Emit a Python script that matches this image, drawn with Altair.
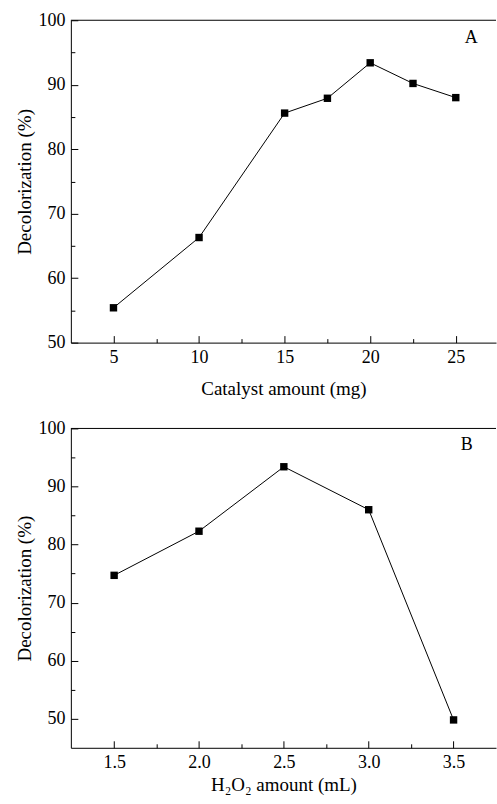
import altair as alt
import pandas as pd

# Panel A data
cat_amount = [5, 10, 15, 17.5, 20, 22.5, 25]
cat_decol = [55.4, 66.3, 85.6, 87.9, 93.4, 90.2, 88.0]
# Panel B data
h2o2_amount = [1.5, 2.0, 2.5, 3.0, 3.5]
h2o2_decol = [74.7, 82.3, 93.4, 86.0, 49.8]

a_major_x = [5, 10, 15, 20, 25]
a_minor_x = [7.5, 12.5, 17.5, 22.5]
a_major_y = [50, 60, 70, 80, 90, 100]
a_minor_y = [55, 65, 75, 85, 95]
b_major_x = [1.5, 2.0, 2.5, 3.0, 3.5]
b_minor_x = [1.75, 2.25, 2.75, 3.25]
b_major_y = [50, 60, 70, 80, 90, 100]
b_minor_y = [55, 65, 75, 85, 95]

FONT = "Liberation Serif"


def panel(xs, ys, xdom, ydom, xmaj, xmin, ymaj, ymin, xtitle, ytitle, letter, lx, ly, h, xfmt, xtp):
    df = pd.DataFrame({"x": xs, "y": ys})
    xsc = alt.Scale(domain=xdom, nice=False, zero=False)
    ysc = alt.Scale(domain=ydom, nice=False, zero=False)
    base = alt.Chart(df)

    main_x = alt.Axis(orient="bottom", values=xmaj, ticks=False, format=xfmt, title=xtitle,
                      labelPadding=6, titlePadding=xtp)
    main_y = alt.Axis(orient="left", values=ymaj, ticks=False, title=ytitle,
                      labelPadding=6, titlePadding=3)
    line = base.mark_line(color="black", strokeWidth=1).encode(
        x=alt.X("x:Q", scale=xsc, axis=main_x),
        y=alt.Y("y:Q", scale=ysc, axis=main_y),
    )
    tick_x = alt.Axis(orient="bottom", values=xmaj, labels=False, domain=False, title=None,
                      offset=-7, tickSize=7)
    tick_y = alt.Axis(orient="left", values=ymaj, labels=False, domain=False, title=None,
                      offset=-7, tickSize=7)
    pts = base.mark_square(color="black", size=55, opacity=1).encode(
        x=alt.X("x:Q", scale=xsc, axis=tick_x),
        y=alt.Y("y:Q", scale=ysc, axis=tick_y),
    )
    mtick_x = alt.Axis(orient="bottom", values=xmin, labels=False, domain=False, title=None,
                       offset=-4, tickSize=4)
    mtick_y = alt.Axis(orient="left", values=ymin, labels=False, domain=False, title=None,
                       offset=-4, tickSize=4)
    ghost = base.mark_point(opacity=0).encode(
        x=alt.X("x:Q", scale=xsc, axis=mtick_x),
        y=alt.Y("y:Q", scale=ysc, axis=mtick_y),
    )
    top = alt.Chart(pd.DataFrame({"v": [ydom[1]]})).mark_rule(color="black", strokeWidth=1).encode(
        y=alt.Y("v:Q", scale=ysc, axis=None)
    )
    lab = alt.Chart(pd.DataFrame({"t": [letter], "lx": [lx], "ly": [ly]})).mark_text(
        font=FONT, fontSize=18, color="black"
    ).encode(
        x=alt.X("lx:Q", scale=xsc, axis=None),
        y=alt.Y("ly:Q", scale=ysc, axis=None),
        text="t:N",
    )
    return alt.layer(line, pts, ghost, top, lab).resolve_axis(x="independent", y="independent").properties(
        width=426, height=h
    )


pA = panel(cat_amount, cat_decol, [2.51, 27.35], [50, 100], a_major_x, a_minor_x, a_major_y, a_minor_y,
           "Catalyst amount (mg)", "Decolorization (%)", "A", 25.9, 97.2, 323, "d", 13)
pB = panel(h2o2_amount, h2o2_decol, [1.245, 3.75], [45, 100], b_major_x, b_minor_x, b_major_y, b_minor_y,
           "H₂O₂ amount (mL)", "Decolorization (%)", "B", 3.578, 97.2, 320, ".1f", 4)

chart = alt.vconcat(pA, pB, spacing=21).properties(
    padding={"left": 16, "top": 10.5, "right": 0, "bottom": 0},
    background="white",
).configure_view(stroke=None).configure_axis(
    grid=False, domainColor="black", domainWidth=1, tickColor="black", tickWidth=1,
    labelFont=FONT, labelFontSize=18, labelColor="black",
    titleFont=FONT, titleFontSize=19, titleFontWeight="normal", titleColor="black",
)

chart.save("out.html", embed_options={"renderer": "svg", "actions": False})
